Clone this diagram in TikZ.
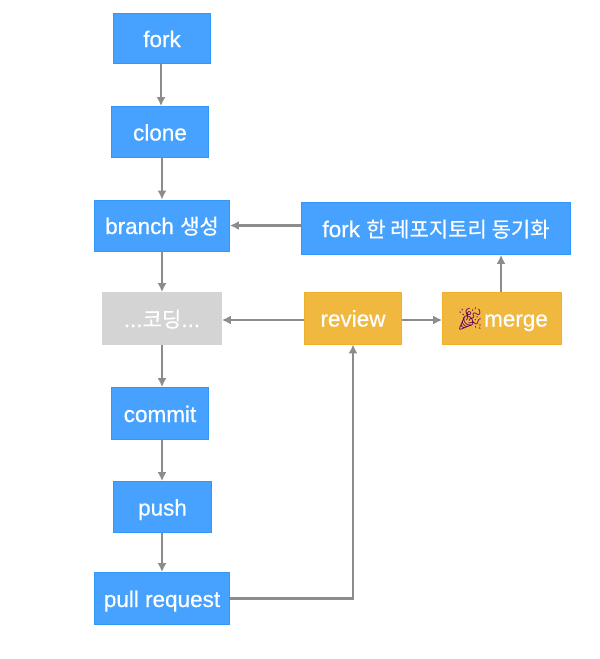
\documentclass[tikz,border=0pt]{standalone}
\usepackage{fontspec}
\setmainfont[FakeBold=0.5]{Liberation Sans}
\newfontfamily\krfont[FakeBold=0.5]{Noto Sans CJK KR}
\newfontfamily\emojifont{Noto Emoji}
\usetikzlibrary{arrows.meta}
\definecolor{taskblue}{HTML}{46A2FE}
\definecolor{taskedge}{HTML}{2F98FA}
\definecolor{doneyellow}{HTML}{F0B83F}
\definecolor{doneedge}{HTML}{EFB02A}
\definecolor{codegray}{HTML}{D4D4D4}
\definecolor{flowgray}{HTML}{8C8C8C}
\tikzset{>={Latex[length=9,width=9]}}
\tikzstyle{task}=[draw=taskedge,fill=taskblue,text=white,line width=0.8,inner sep=0,
                  font=\fontsize{22.5}{25}\selectfont,text height=17,text depth=0]
\tikzstyle{done}=[task,draw=doneedge,fill=doneyellow]
\tikzstyle{coding}=[task,draw=codegray,fill=codegray]
\tikzstyle{flow}=[->,flowgray,line width=2.2]
\newcommand*{\kr}[1]{{\krfont\fontsize{21}{25}\selectfont #1}}

\begin{document}
\begin{tikzpicture}[x=1pt,y=-1pt]
  \useasboundingbox (0,0) rectangle (600,659);
  
  % LEFT COLUMN
  \node[task,minimum width=97,minimum height=50] (fork) at (162,38.5) {fork};
  \node[task,minimum width=97,minimum height=51] (clone) at (160,132) {clone};
  \node[task,minimum width=135,minimum height=51] (branch) at (162,225.5) {branch \kr{생성}};
  \node[coding,minimum width=119,minimum height=52] (code) at (162,318.5) {...\kr{코딩}...};
  \node[task,minimum width=97,minimum height=52] (commit) at (160,413.5) {commit};
  \node[task,minimum width=98,minimum height=51] (push) at (162.5,507) {push};
  \node[task,minimum width=135,minimum height=52] (pull) at (162,598.5) {pull request};
  
  % RIGHT SIDE
  \node[task,minimum width=269,minimum height=52] (sync) at (436,228.5)
    {fork \kr{한 레포지토리 동기화}};
  \node[done,minimum width=97,minimum height=52] (review) at (353,318) {review};
  \node[done,minimum width=119,minimum height=52] (merge) at (502,318)
    {{\emojifont\color{violet!80!black}\fontsize{22}{25}\selectfont 🎉}merge};
  
  % MAIN FLOW
  \draw[flow] ([xshift=-1]fork.south) -- ([xshift=1]clone.north);
  \draw[flow] ([xshift=2]clone.south) -- (branch.north);
  \draw[flow] (branch.south) -- (code.north);
  \draw[flow] (code.south) -- ([xshift=2]commit.north);
  \draw[flow] ([xshift=2]commit.south) -- ([xshift=-0.5]push.north);
  \draw[flow] ([xshift=-0.5]push.south) -- (pull.north);
  
  % REVIEW LOOP
  \draw[flow] (pull.east) -| (review.south);
  \draw[flow] ([yshift=-2]review.west) -- ([yshift=-1.5]code.east);
  \draw[flow] ([yshift=-2]review.east) -- ([yshift=-2]merge.west);
  \draw[flow] ([xshift=-1]merge.north) -- ([xshift=65]sync.south);
  \draw[flow] (sync.west |- branch.east) -- (branch.east);
  
\end{tikzpicture}
\end{document}
